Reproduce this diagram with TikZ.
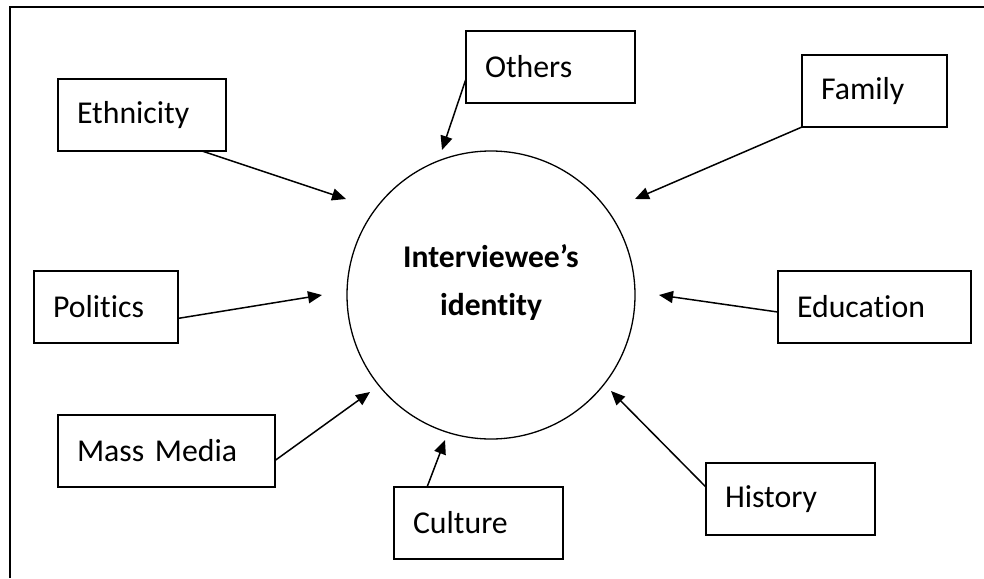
\documentclass[tikz,border=0pt]{standalone}
\usepackage{fontspec}
\setmainfont{Carlito}[Ligatures=NoCommon]
\usepackage{tikz}
\usetikzlibrary{arrows.meta}

\begin{document}
\begin{tikzpicture}[
                    x=1pt, y=-1pt,
                    factor/.style={
                        rectangle,
                        draw=black,
                        line width=1.5pt,
                        outer sep=0pt,
                        inner xsep=19pt,
                        inner ysep=0pt,
                        minimum height=72pt,
                        text width=#1,
                        align=left,
                        anchor=north west,
                        font=\fontsize{31.8}{38}\selectfont
                    },
                    core/.style={
                        circle,
                        draw=black,
                        line width=1.3pt,
                        outer sep=0pt,
                        minimum size=288pt,
                        inner sep=0pt,
                        align=center,
                        text height=40pt,
                        text depth=0pt,
                        font=\bfseries\fontsize{31.6}{48}\selectfont
                    },
                    ->,
                    >={Triangle[length=14pt,width=12pt]},
                    line width=1.5pt
                ]
                \useasboundingbox (0,0) rectangle (984,578);
                \draw [-, line width=2pt] (10,578) -- (10,7) -- (984,7);

                \node (ID) [core] at (491,295) {Interviewee’s\\identity};

                \node (ETH) [factor=130pt] at (58,79) {Ethnicity};
                \node (OTH) [factor=131pt] at (466,31) {Others};
                \node (FAM) [factor=107pt] at (802,55) {Family};
                \node (POL) [factor=106pt] at (34,271) {Politics};
                \node (EDU) [factor=155pt] at (778,271) {Education};
                \node (MM) [factor=179pt] at (58,415) {Mass Media};
                \node (CUL) [factor=131pt] at (394,487) {Culture};
                \node (HIS) [factor=131pt] at (706,463) {History};

                \coordinate (tETH) at (346,199);
                \coordinate (tOTH) at (442,150);
                \coordinate (tFAM) at (635,199);
                \coordinate (tPOL) at (322,295);
                \coordinate (tEDU) at (659,295);
                \coordinate (tMM) at (370,392);
                \coordinate (tCUL) at (445,440);
                \coordinate (tHIS) at (611,391);

                \draw [->] (ETH.-31) -- (tETH);
                \draw [->] (OTH.188) -- (tOTH);
                \draw [->] (FAM.south west) -- (tFAM);
                \draw [->] (POL.-9.5) -- (tPOL);
                \draw [->] (EDU.183) -- (tEDU);
                \draw [->] (MM.-5.8) -- (tMM);
                \draw [->] (CUL.145) -- (tCUL);
                \draw [->] (HIS.172) -- (tHIS);
            \end{tikzpicture}
\end{document}
